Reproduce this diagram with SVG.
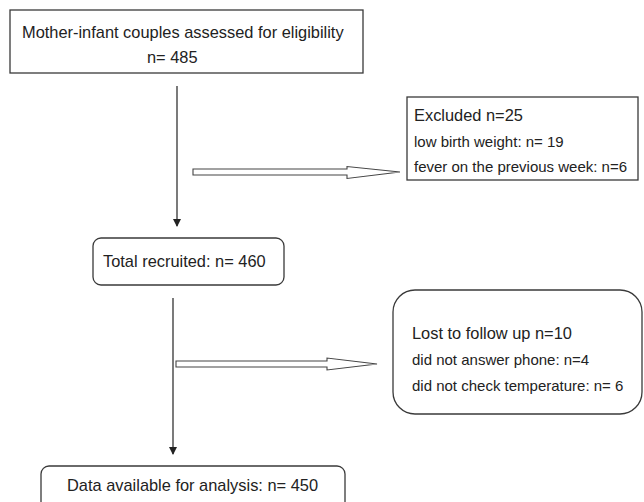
<svg xmlns="http://www.w3.org/2000/svg" width="644" height="502" viewBox="0 0 644 502">
<style>
.box{fill:#fff;stroke:#3a3a3a;stroke-width:1.3}
.ln{fill:none;stroke:#333;stroke-width:1.3}
.ha{fill:#fff;stroke:#444;stroke-width:1.1;stroke-linejoin:miter}
.t{font-family:"Liberation Sans",Arial,sans-serif;font-size:16.4px;fill:#222}
.s{font-family:"Liberation Sans",Arial,sans-serif;font-size:15px;fill:#222}
</style>
<defs>
<marker id="ah" markerWidth="8" markerHeight="10" refX="7" refY="5" orient="auto" markerUnits="userSpaceOnUse">
<path d="M0,1 L8,5 L0,9 Z" fill="#222"/>
</marker>
</defs>
<g id="connectors">
<line class="ln" x1="177" y1="86" x2="177" y2="226" marker-end="url(#ah)"/>
<line class="ln" x1="173" y1="298" x2="173" y2="454" marker-end="url(#ah)"/>
<path class="ha" d="M193,169 L347,169 L347,166.5 L400,172 L347,178.5 L347,175 L193,175 Z"/>
<path class="ha" d="M176,361 L327,361 L327,358 L377,364 L327,370 L327,367 L176,367 Z"/>
</g>
<g id="n1">
<rect class="box" x="10" y="10" width="353" height="63"/>
<text class="t" x="22" y="38">Mother-infant couples assessed for eligibility</text>
<text class="t" x="147" y="63">n= 485</text>
</g>
<g id="n2">
<rect class="box" x="407" y="97" width="231" height="83"/>
<text class="t" x="414" y="121">Excluded n=25</text>
<text class="s" x="414" y="147">low birth weight: n= 19</text>
<text class="s" x="414" y="172">fever on the previous week: n=6</text>
</g>
<g id="n3">
<rect class="box" x="93" y="238" width="191" height="47" rx="8"/>
<text class="t" x="103" y="267">Total recruited: n= 460</text>
</g>
<g id="n4">
<rect class="box" x="393" y="290" width="249" height="124" rx="22"/>
<text class="t" x="412" y="339">Lost to follow up n=10</text>
<text class="s" x="412" y="365">did not answer phone: n=4</text>
<text class="s" x="412" y="391">did not check temperature: n= 6</text>
</g>
<g id="n5">
<rect class="box" x="41" y="466" width="304" height="60" rx="8"/>
<text class="t" x="67" y="491">Data available for analysis: n= 450</text>
</g>
</svg>
